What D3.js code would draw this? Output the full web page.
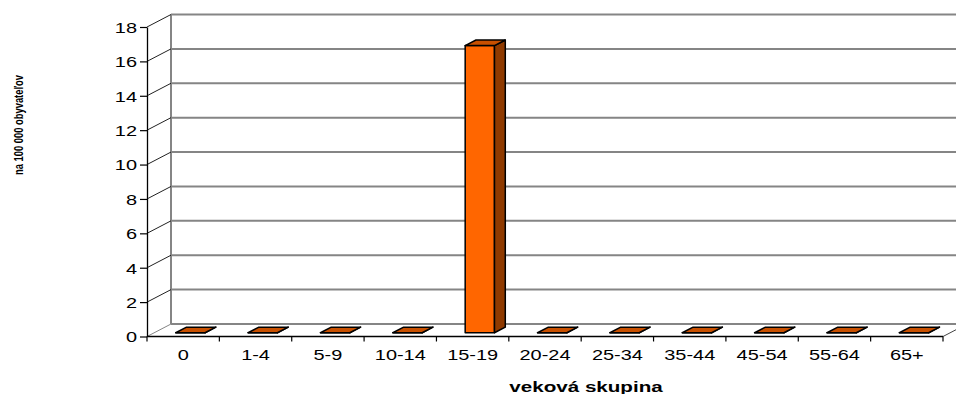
<!DOCTYPE html>
<html>
<head>
<meta charset="utf-8">
<script src="https://cdn.jsdelivr.net/npm/d3@7"></script>
<style>
  html, body { margin: 0; padding: 0; background: #fff; }
  svg { display: block; }
  text { font-family: "Liberation Sans", Arial, sans-serif; fill: #000; }
</style>
</head>
<body>
<svg id="chart" width="956" height="394"></svg>
<script>
// Age groups and rate per 100 000 inhabitants
const categories = ["0", "1-4", "5-9", "10-14", "15-19", "20-24", "25-34", "35-44", "45-54", "55-64", "65+"];
const values = [0, 0, 0, 0, 16.7, 0, 0, 0, 0, 0, 0];
const yTicks = [0, 2, 4, 6, 8, 10, 12, 14, 16, 18];
const yTitle = "na 100 000 obyvateľov";
const xTitle = "veková skupina";

const svg = d3.select("#chart");
const W = 956, H = 394;

// 3D box: front plane plus a depth offset toward the upper right
const DX = 24, DY = 12.5;
const SX = 1.33; // horizontal text stretch

const x = d3.scaleBand().domain(categories).range([147, 943]).paddingInner(0).paddingOuter(0);
const y = d3.scaleLinear().domain([0, 18]).range([336.5, 27]);

const proj = (px, v, d) => [px + d * DX, y(v) - d * DY];
const xL = x.range()[0], xR = x.range()[1];
const vMax = y.domain()[1];

svg.append("defs").append("clipPath").attr("id", "c")
  .append("rect").attr("x", 0).attr("y", 0).attr("width", W).attr("height", H);
const g = svg.append("g").attr("clip-path", "url(#c)");

// Back wall
const bw = [proj(xL, 0, 1), proj(xR, 0, 1), proj(xR, vMax, 1), proj(xL, vMax, 1)];
g.append("polygon").attr("points", bw.map(p => p.join(",")).join(" ")).attr("fill", "#fff");

// Gridlines on the back wall
g.selectAll("line.grid").data(yTicks).join("line")
  .attr("class", "grid")
  .attr("x1", d => proj(xL, d, 1)[0]).attr("y1", d => proj(xL, d, 1)[1])
  .attr("x2", d => proj(xR, d, 1)[0]).attr("y2", d => proj(xR, d, 1)[1])
  .attr("stroke", "#858585").attr("stroke-width", 2);

// Left edge of back wall
g.append("line")
  .attr("x1", proj(xL, 0, 1)[0]).attr("y1", proj(xL, 0, 1)[1])
  .attr("x2", proj(xL, vMax, 1)[0]).attr("y2", proj(xL, vMax, 1)[1])
  .attr("stroke", "#858585").attr("stroke-width", 2);

// Side wall lines from the value axis to the back wall
g.selectAll("line.side").data(yTicks).join("line")
  .attr("class", "side")
  .attr("x1", d => proj(xL, d, 0)[0]).attr("y1", d => proj(xL, d, 0)[1])
  .attr("x2", d => proj(xL, d, 1)[0]).attr("y2", d => proj(xL, d, 1)[1])
  .attr("stroke", d => d === 0 ? "#858585" : "#222").attr("stroke-width", 1);

// Floor right edge
g.append("line")
  .attr("x1", proj(xR, 0, 0)[0]).attr("y1", proj(xR, 0, 0)[1])
  .attr("x2", proj(xR, 0, 1)[0]).attr("y2", proj(xR, 0, 1)[1])
  .attr("stroke", "#444").attr("stroke-width", 1);

// Bars (front, top, right side)
const d0 = 0.3, d1 = 0.75, wFrac = 0.405;
const bars = g.selectAll("g.bar").data(categories.map((c, i) => ({ c, v: values[i] }))).join("g").attr("class", "bar");
bars.each(function (d) {
  const cx = x(d.c) + x.bandwidth() / 2;
  const bwid = x.bandwidth() * wFrac;
  const l = cx - bwid / 2, r = cx + bwid / 2;
  const sel = d3.select(this);
  const pts = arr => arr.map(p => p.join(",")).join(" ");
  const front = [proj(l, 0, d0), proj(r, 0, d0), proj(r, d.v, d0), proj(l, d.v, d0)];
  const side = [proj(r, 0, d0), proj(r, 0, d1), proj(r, d.v, d1), proj(r, d.v, d0)];
  const top = [proj(l, d.v, d0), proj(r, d.v, d0), proj(r, d.v, d1), proj(l, d.v, d1)];
  sel.append("polygon").attr("points", pts(front)).attr("fill", "#FF6600")
    .attr("stroke", "#000").attr("stroke-width", 1.5).attr("stroke-linejoin", "round");
  sel.append("polygon").attr("points", pts(side)).attr("fill", "#8F3A00")
    .attr("stroke", "#000").attr("stroke-width", 1.5).attr("stroke-linejoin", "round");
  sel.append("polygon").attr("points", pts(top)).attr("fill", "#C85000")
    .attr("stroke", "#000").attr("stroke-width", 1.5).attr("stroke-linejoin", "round");
});

// Value axis
const yAxis = g.append("g").attr("transform", `translate(${xL},0)`)
  .call(d3.axisLeft(y).tickValues(yTicks).tickSize(7).tickSizeOuter(0).tickFormat(d3.format("d")));
yAxis.select(".domain").attr("stroke", "#000").attr("stroke-width", 1.3);
yAxis.selectAll(".tick line").attr("stroke", "#000").attr("stroke-width", 1.2);
yAxis.selectAll(".tick text")
  .attr("x", 0).attr("dy", "0.36em")
  .attr("transform", `translate(-10,0) scale(${SX},1)`)
  .style("font-size", "15px").style("font-family", "'Liberation Sans', Arial, sans-serif").attr("fill", "#000");

// Category axis: front floor edge, boundary ticks and labels
const bounds = categories.map(c => x(c)).concat([xR]);
g.append("line").attr("x1", xL).attr("x2", xR).attr("y1", y(0)).attr("y2", y(0))
  .attr("stroke", "#000").attr("stroke-width", 1.3);
g.selectAll("line.xtick").data(bounds).join("line")
  .attr("class", "xtick")
  .attr("x1", d => d).attr("x2", d => d).attr("y1", y(0)).attr("y2", y(0) + 5)
  .attr("stroke", "#000").attr("stroke-width", 1.2);
g.selectAll("text.xlab").data(categories).join("text")
  .attr("class", "xlab")
  .attr("text-anchor", "middle")
  .attr("transform", d => `translate(${x(d) + x.bandwidth() / 2},360) scale(${SX},1)`)
  .style("font-size", "15px")
  .text(d => d);

// Axis titles
g.append("text")
  .attr("text-anchor", "middle")
  .attr("transform", `translate(586,392) scale(${SX},1)`)
  .style("font-size", "15.5px").style("font-weight", "bold")
  .text(xTitle);

g.append("text")
  .attr("text-anchor", "middle")
  .attr("transform", `translate(23,125) scale(1.25,1) rotate(-90)`)
  .attr("textLength", 100).attr("lengthAdjust", "spacingAndGlyphs")
  .style("font-size", "10.5px").style("font-weight", "bold")
  .text(yTitle);
</script>
</body>
</html>
